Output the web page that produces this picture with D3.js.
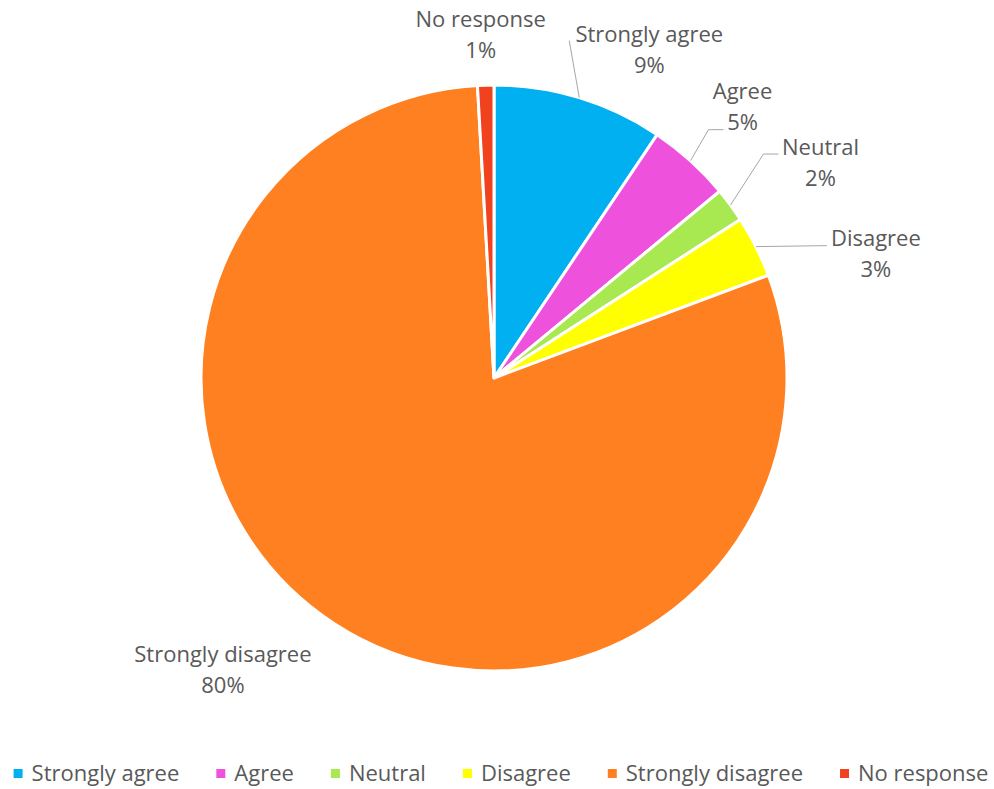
<!DOCTYPE html>
<html>
<head>
<meta charset="utf-8">
<script src="https://cdn.jsdelivr.net/npm/d3@7"></script>
<style>
  body { margin: 0; background: #fff; }
  text { font-family: "Open Sans", Lato, sans-serif; fill: #595959; }
</style>
</head>
<body>
<script>
// survey answers, percent of respondents
const categories = ["Strongly agree", "Agree", "Neutral", "Disagree", "Strongly disagree", "No response"];
const values = [9.4, 4.6, 1.9, 3.4, 79.8, 0.9];
const colors = ["#00B0F0", "#EE52DC", "#A8E850", "#FFFF00", "#FF8020", "#F0421E"];

// label placement relative to the slice's outer mid point (Excel style)
const labelNudge = [[70, -56], [52, -62], [90, -50], [120, -1], [-111, 39], [-5, -58]];
// leader line points relative to label anchor (null = no leader)
const leaders = [
  [[-80, -1]],
  [[-34, 31], [-19, 31]],
  [[-57, -1], [-42, -1]],
  [[-49, 0]],
  null,
  null
];

function drawChart(){
	const width = 994, height = 789;
	const cx = 494, cy = 378, radius = 293;
	const fontSize = 22, lineGap = 31;

	let svg = d3.select("body").append("svg")
		.attr("width", width)
		.attr("height", height);

	let data = categories.map((c, i) => ({name: c, value: values[i], color: colors[i], i: i}));

	let pie = d3.pie().sort(null).value(d => d.value);
	let arcs = pie(data);
	let arc = d3.arc().innerRadius(0).outerRadius(radius);
	let total = d3.sum(values);
	let fmt = d3.format(".0%");

	let g = svg.append("g").attr("transform", "translate(" + cx + "," + cy + ")");

	g.selectAll(".slice")
		.data(arcs)
		.enter().append("path")
			.attr("class", "slice")
			.attr("d", arc)
			.attr("fill", d => d.data.color)
			.attr("stroke", "#fff")
			.attr("stroke-width", 3)
			.attr("stroke-linejoin", "round");

	//labels and leader lines
	arcs.forEach((d, i) => {
		let mid = (d.startAngle + d.endAngle) / 2;
		let ox = radius * Math.sin(mid), oy = -radius * Math.cos(mid);
		let lx = ox + labelNudge[i][0], ly = oy + labelNudge[i][1];

		if (leaders[i]) {
			let pts = [[ox, oy]].concat(leaders[i].map(p => [lx + p[0], ly + p[1]]));
			g.append("path")
				.attr("d", d3.line()(pts))
				.attr("fill", "none")
				.attr("stroke", "#a6a6a6")
				.attr("stroke-width", 1);
		}
		let t = g.append("text")
			.attr("text-anchor", "middle")
			.attr("font-size", fontSize);
		t.append("tspan").attr("x", lx).attr("y", ly).text(d.data.name);
		t.append("tspan").attr("x", lx).attr("y", ly + lineGap).text(fmt(d.data.value / total));
	});

	//legend
	let legend = svg.append("g").attr("class", "legend");
	let x = 0;
	data.forEach(d => {
		let item = legend.append("g").attr("transform", "translate(" + x + ",0)");
		item.append("rect")
			.attr("x", 0).attr("y", -12)
			.attr("width", 9).attr("height", 9)
			.attr("fill", d.color);
		let txt = item.append("text")
			.attr("x", 18).attr("y", 0)
			.attr("font-size", fontSize)
			.text(d.name);
		x += 18 + txt.node().getComputedTextLength() + 37;
	});
	let legendWidth = x - 37;
	legend.attr("transform", "translate(" + (501 - legendWidth / 2) + ",781)");
}

drawChart();
</script>
</body>
</html>
